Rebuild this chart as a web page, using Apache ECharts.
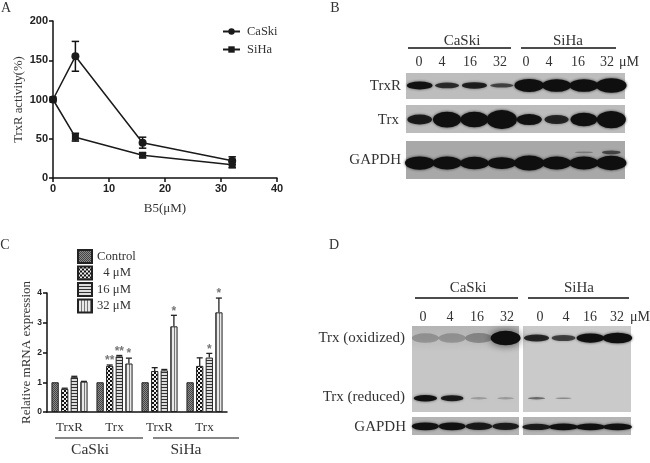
<!DOCTYPE html>
<html>
<head>
<meta charset="utf-8">
<style>
html, body { margin: 0; padding: 0; background: #fff; }
#main { width: 650px; height: 463px; filter: blur(0.4px); }
</style>
<script src="https://cdn.jsdelivr.net/npm/echarts@6/dist/echarts.min.js"></script>
</head>
<body>
<div id="main"></div>
<script>
// panel A
var doseX = [0, 4, 16, 32];
var caskiActivity = [100, 155, 45, 22];
var caskiErr = [0, 19, 7, 5];
var sihaActivity = [100, 52, 29, 17];
var sihaErr = [0, 5, 3, 4];

// panel C
var geneCats = ['TrxR', 'Trx', 'TrxR', 'Trx'];
var doseNames = ['Control', '  4 μM', '16 μM', '32 μM'];
var mrnaControl = [1, 1, 1, 1];
var mrna4 = [0.78, 1.55, 1.38, 1.55];
var mrna16 = [1.17, 1.87, 1.40, 1.83];
var mrna32 = [1.02, 1.63, 2.88, 3.35];
var errControl = [0, 0, 0, 0];
var err4 = [0.02, 0.03, 0.11, 0.27];
var err16 = [0.03, 0.03, 0.03, 0.14];
var err32 = [0.01, 0.18, 0.37, 0.48];
var starsControl = ['', '', '', ''];
var stars4 = ['', '**', '', ''];
var stars16 = ['', '**', '', '*'];
var stars32 = ['', '*', '*', '*'];

// blot band intensities, one per lane (0 = no band)
var laneNames = ['0', '4', '16', '32'];
var bTrxR = [0.55, 0.42, 0.48, 0.33, 0.88, 0.85, 0.85, 0.98];
var bTrx = [0.5, 0.82, 0.8, 1, 0.55, 0.45, 0.7, 0.9];
var bGapdh = [0.75, 0.72, 0.68, 0.62, 0.9, 0.72, 0.72, 0.85];
var bGapdhFaint = [0, 0, 0, 0, 0, 0, 0.1, 0.3];
var dCaskiOx = [0.06, 0.06, 0.1, 0.6];
var dCaskiRed = [0.55, 0.5, 0.05, 0.05];
var dSihaOx = [0.45, 0.35, 0.7, 0.85];
var dSihaRed = [0.22, 0.12, 0, 0];
var dCaskiGapdh = [0.55, 0.55, 0.5, 0.48];
var dSihaGapdh = [0.48, 0.55, 0.55, 0.55];

var serif = '"Liberation Serif", serif';
var sans = '"Liberation Sans", sans-serif';
var textColor = '#333';

function pattern(bg, draw, w, h) {
    var c = document.createElement('canvas');
    c.width = w;
    c.height = h;
    var ctx = c.getContext('2d');
    ctx.fillStyle = bg;
    ctx.fillRect(0, 0, w, h);
    draw(ctx);
    return { image: c, repeat: 'repeat' };
}
var patterns = [
    pattern('#8c8c8c', function (ctx) {
        ctx.fillStyle = '#444';
        ctx.fillRect(0, 0, 1, 1);
        ctx.fillRect(1, 1, 1, 1);
    }, 2, 2),
    pattern('#111', function (ctx) {
        ctx.fillStyle = '#eee';
        ctx.fillRect(0, 0, 2, 2);
        ctx.fillRect(2, 2, 2, 2);
    }, 4, 4),
    pattern('#ddd', function (ctx) {
        ctx.fillStyle = '#333';
        ctx.fillRect(0, 0, 3, 1);
    }, 3, 3),
    pattern('#e8e8e8', function (ctx) {
        ctx.fillStyle = '#777';
        ctx.fillRect(0, 0, 1, 3);
    }, 3, 3)
];

var grids = [
    { left: 53, top: 21, width: 224, height: 157, outerBoundsMode: 'none' },
    { left: 47, top: 293, width: 180, height: 119, outerBoundsMode: 'none' }
];
var xAxes = [
    {
        type: 'value', gridIndex: 0, min: 0, max: 40, interval: 10,
        name: 'B5(μM)', nameLocation: 'middle', nameGap: 24,
        nameTextStyle: { fontFamily: serif, fontSize: 13, color: textColor },
        axisLine: { lineStyle: { color: '#111', width: 1.5 } },
        axisTick: { length: 4, lineStyle: { color: '#111', width: 1.5 } },
        axisLabel: { fontFamily: sans, fontWeight: 'bold', fontSize: 11, color: '#222', margin: 5 },
        splitLine: { show: false }
    },
    {
        type: 'category', gridIndex: 1, data: geneCats,
        axisLine: { lineStyle: { color: '#111', width: 1.5 } },
        axisTick: { show: false },
        axisLabel: { fontFamily: serif, fontSize: 13, color: textColor, margin: 9 }
    }
];
var yAxes = [
    {
        type: 'value', gridIndex: 0, min: 0, max: 200, interval: 50,
        name: 'TrxR activity(%)', nameLocation: 'middle', nameGap: 28,
        nameTextStyle: { fontFamily: serif, fontSize: 12.7, color: textColor },
        axisLine: { show: true, lineStyle: { color: '#111', width: 1.5 } },
        axisTick: { show: true, length: 4, lineStyle: { color: '#111', width: 1.5 } },
        axisLabel: { fontFamily: sans, fontWeight: 'bold', fontSize: 11, color: '#222', margin: 5 },
        splitLine: { show: false }
    },
    {
        type: 'value', gridIndex: 1, min: 0, max: 4, interval: 1,
        name: 'Relative mRNA expression', nameLocation: 'middle', nameGap: 14,
        nameTextStyle: { fontFamily: serif, fontSize: 13, color: textColor },
        axisLine: { show: true, lineStyle: { color: '#111', width: 1.5 } },
        axisTick: { show: true, length: 4, lineStyle: { color: '#111', width: 1.5 } },
        axisLabel: { fontFamily: sans, fontWeight: 'bold', fontSize: 8.5, color: '#222', margin: 5 },
        splitLine: { show: false }
    }
];
var series = [];

// panel A lines + error bars
function activityErrors(values, errs) {
    return values.map(function (v, i) {
        return [doseX[i], v - errs[i], v + errs[i]];
    });
}
function renderActivityErr(params, api) {
    var top = api.coord([api.value(0), api.value(2)]);
    var bot = api.coord([api.value(0), api.value(1)]);
    var st = { stroke: '#111', lineWidth: 1.5, fill: null };
    return {
        type: 'group',
        children: [
            { type: 'line', shape: { x1: top[0], y1: top[1], x2: bot[0], y2: bot[1] }, style: st },
            { type: 'line', shape: { x1: top[0] - 3.7, y1: top[1], x2: top[0] + 3.7, y2: top[1] }, style: st },
            { type: 'line', shape: { x1: bot[0] - 3.7, y1: bot[1], x2: bot[0] + 3.7, y2: bot[1] }, style: st }
        ]
    };
}
[
    { name: 'CaSki', vals: caskiActivity, errs: caskiErr, symbol: 'circle', size: 8 },
    { name: 'SiHa', vals: sihaActivity, errs: sihaErr, symbol: 'rect', size: 7 }
].forEach(function (s) {
    series.push({
        type: 'line', name: s.name, xAxisIndex: 0, yAxisIndex: 0,
        data: s.vals.map(function (v, i) { return [doseX[i], v]; }),
        symbol: s.symbol, symbolSize: s.size, showSymbol: true,
        lineStyle: { color: '#1a1a1a', width: 1.5 },
        itemStyle: { color: '#1a1a1a' }
    });
    series.push({
        type: 'custom', xAxisIndex: 0, yAxisIndex: 0,
        data: activityErrors(s.vals, s.errs),
        encode: { x: 0, y: [1, 2] },
        renderItem: renderActivityErr,
        z: 3
    });
});

// panel C bars
var barW = 7.3, barStep = 9.6;
[
    { vals: mrnaControl, errs: errControl, stars: starsControl },
    { vals: mrna4, errs: err4, stars: stars4 },
    { vals: mrna16, errs: err16, stars: stars16 },
    { vals: mrna32, errs: err32, stars: stars32 }
].forEach(function (s, k) {
    series.push({
        type: 'bar', name: doseNames[k], xAxisIndex: 1, yAxisIndex: 1,
        data: s.vals,
        barWidth: barW,
        barGap: ((barStep - barW) / barW * 100) + '%',
        itemStyle: { color: patterns[k], borderColor: '#222', borderWidth: 1 }
    });
    series.push({
        type: 'custom', xAxisIndex: 1, yAxisIndex: 1,
        data: s.vals.map(function (v, i) { return [i, v, v + s.errs[i], s.stars[i]]; }),
        encode: { x: 0, y: [1, 2] },
        renderItem: function (params, api) {
            var i = params.dataIndex;
            var p = api.coord([i, api.value(1)]);
            var t = api.coord([i, api.value(2)]);
            var x = p[0] + (k - 1.5) * barStep;
            var st = { stroke: '#222', lineWidth: 1.3, fill: null };
            var children = [];
            if (s.errs[i] > 0) {
                children.push({ type: 'line', shape: { x1: x, y1: p[1], x2: x, y2: t[1] }, style: st });
                children.push({ type: 'line', shape: { x1: x - 3, y1: t[1], x2: x + 3, y2: t[1] }, style: st });
            }
            if (s.stars[i]) {
                children.push({
                    type: 'text',
                    style: {
                        text: s.stars[i], x: x, y: t[1] + 2,
                        align: 'center', verticalAlign: 'bottom',
                        fill: '#777', font: 'bold 12px ' + sans
                    }
                });
            }
            return { type: 'group', children: children };
        },
        z: 3
    });
});

// blots: each one is a grid, bands are scatter points sized from intensity
function addBlot(left, top, width, height, bg, rows) {
    var n = grids.length;
    grids.push({ left: left, top: top, width: width, height: height, show: true, borderWidth: 0, backgroundColor: bg, outerBoundsMode: 'none' });
    var laneCount = rows[0].values.length;
    var laneData = [];
    for (var l = 0; l < laneCount; l++) laneData.push(l);
    xAxes.push({ type: 'category', gridIndex: n, show: false, data: laneData });
    yAxes.push({ type: 'value', gridIndex: n, show: false, min: 0, max: 1, inverse: true });
    var laneW = width / laneCount;
    rows.forEach(function (r) {
        series.push({
            type: 'scatter', xAxisIndex: n, yAxisIndex: n,
            data: r.values.map(function (v, i) {
                return {
                    value: [i, r.y],
                    symbolSize: [laneW * (r.wBase + r.wGain * v), r.hBase + r.hGain * v],
                    itemStyle: {
                        color: 'rgba(15,15,15,' + Math.min(1, 0.15 + v * 1.5) + ')',
                        opacity: v > 0 ? 1 : 0,
                        shadowBlur: r.blur || 3,
                        shadowColor: 'rgba(15,15,15,' + Math.min(0.8, 0.1 + v) + ')'
                    }
                };
            }),
            symbol: 'circle', silent: true, animation: false
        });
    });
}
function fade(top, bottom) {
    return new echarts.graphic.LinearGradient(0, 0, 0, 1, [
        { offset: 0, color: top },
        { offset: 0.3, color: bottom },
        { offset: 1, color: bottom }
    ]);
}
addBlot(406, 73, 219, 26, '#bdbdbd', [
    { y: 0.48, values: bTrxR, wBase: 0.72, wGain: 0.4, hBase: -1, hGain: 16 }
]);
addBlot(406, 105, 219, 28, '#bcbcbc', [
    { y: 0.52, values: bTrx, wBase: 0.7, wGain: 0.4, hBase: 1, hGain: 18 }
]);
addBlot(406, 141, 219, 38, '#a8a8a8', [
    { y: 0.3, values: bGapdhFaint, wBase: 0.65, wGain: 0.1, hBase: 1, hGain: 9 },
    { y: 0.58, values: bGapdh, wBase: 0.85, wGain: 0.3, hBase: 5, hGain: 11 }
]);
addBlot(412, 326, 107, 86, fade('#b4b4b4', '#c6c6c6'), [
    { y: 0.14, values: dCaskiOx, wBase: 1.0, wGain: 0.2, hBase: 9, hGain: 9, blur: 9 },
    { y: 0.84, values: dCaskiRed, wBase: 0.6, wGain: 0.5, hBase: 2, hGain: 8 }
]);
addBlot(523, 326, 108, 86, '#cacaca', [
    { y: 0.14, values: dSihaOx, wBase: 0.75, wGain: 0.4, hBase: 3, hGain: 9 },
    { y: 0.84, values: dSihaRed, wBase: 0.55, wGain: 0.4, hBase: 1, hGain: 6 }
]);
addBlot(412, 417, 107, 18, '#b4b4b4', [
    { y: 0.52, values: dCaskiGapdh, wBase: 0.85, wGain: 0.3, hBase: 4, hGain: 7 }
]);
addBlot(523, 417, 108, 18, '#b4b4b4', [
    { y: 0.55, values: dSihaGapdh, wBase: 0.9, wGain: 0.3, hBase: 3, hGain: 7 }
]);

// text and rules around the blots
var labels = [];
function text(str, x, y, size, align, font, color) {
    labels.push({
        type: 'text', silent: true,
        style: {
            text: str, x: x, y: y, align: align || 'center', verticalAlign: 'middle',
            fill: color || textColor, font: (size || 15) + 'px ' + (font || serif)
        }
    });
}
function rule(x1, x2, y, w) {
    labels.push({
        type: 'line', silent: true,
        shape: { x1: x1, y1: y, x2: x2, y2: y },
        style: { stroke: '#111', lineWidth: w || 1.6 }
    });
}
text('A', 6, 8, 14);
text('B', 335, 8, 14);
text('C', 5, 245, 14);
text('D', 334, 245, 14);

// C group labels
rule(55, 143, 438, 1);
rule(153, 239, 438, 1);
text('CaSki', 90, 450, 15.5);
text('SiHa', 186, 450, 15.5);

// B header
rule(408, 511, 48);
rule(521, 616, 48);
text('CaSki', 462, 41);
text('SiHa', 568, 41);
var bLaneX = [419, 442, 470, 500, 526, 549, 578, 607];
bLaneX.forEach(function (x, i) { text(laneNames[i % 4], x, 62, 14); });
text('μM', 629, 62, 14);
text('TrxR', 401, 86, 15, 'right');
text('Trx', 399, 120, 15, 'right');
text('GAPDH', 401, 160, 15, 'right');

// D header
rule(415, 518, 298);
rule(528, 629, 298);
text('CaSki', 468, 288);
text('SiHa', 579, 288);
var dLaneX = [423, 450, 477, 507, 540, 566, 590, 617];
dLaneX.forEach(function (x, i) { text(laneNames[i % 4], x, 317, 14); });
text('μM', 640, 317, 14);
text('Trx (oxidized)', 405, 338, 15, 'right');
text('Trx (reduced)', 405, 397, 15, 'right');
text('GAPDH', 406, 427, 15, 'right');

var chart = echarts.init(document.getElementById('main'));
chart.setOption({
    animation: false,
    backgroundColor: '#fff',
    grid: grids,
    xAxis: xAxes,
    yAxis: yAxes,
    legend: [
        {
            data: ['CaSki', 'SiHa'], orient: 'vertical', left: 222, top: 25, padding: 0,
            itemWidth: 17, itemHeight: 8, itemGap: 5, selectedMode: false,
            textStyle: { fontFamily: serif, fontSize: 12.5, color: textColor, padding: [0, 0, 0, 2] }
        },
        {
            data: doseNames.map(function (n) { return { name: n, icon: 'rect' }; }),
            orient: 'vertical', left: 77, top: 249, padding: 0,
            itemWidth: 14, itemHeight: 13, itemGap: 1.5, selectedMode: false,
            textStyle: { fontFamily: serif, fontSize: 12.7, color: textColor }
        }
    ],
    graphic: { elements: labels },
    series: series
});
</script>
</body>
</html>
